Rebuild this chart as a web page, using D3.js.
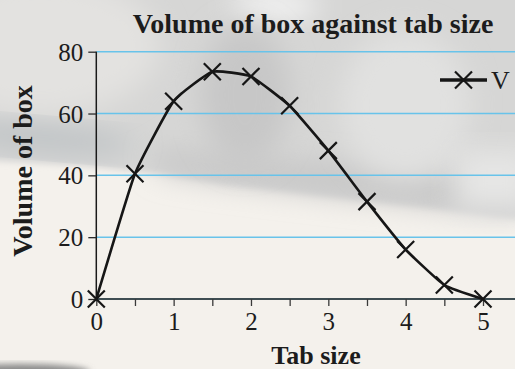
<!DOCTYPE html>
<html>
<head>
<meta charset="utf-8">
<script src="https://cdn.jsdelivr.net/npm/d3@7"></script>
<style>
  html, body { margin: 0; padding: 0; background: #f2efea; }
  svg { display: block; }
  text { font-family: "Liberation Serif", "Times New Roman", serif; fill: #1c1c1c; }
</style>
</head>
<body>
<script>
// Tab size (cm) and resulting box volume
const tabSizes = [0, 0.5, 1, 1.5, 2, 2.5, 3, 3.5, 4, 4.5, 5];
const volumes = [0, 40.5, 64, 73.5, 72, 62.5, 48, 31.5, 16, 4.5, 0];
const xTickLabels = [0, 1, 2, 3, 4, 5];
const yTickLabels = [0, 20, 40, 60, 80];
const seriesName = "V";
const chartTitle = "Volume of box against tab size";
const xTitle = "Tab size";
const yTitle = "Volume of box";

const W = 515, H = 369;
const svg = d3.select("body").append("svg").attr("width", W).attr("height", H);

// ---- soft photographic backdrop ----
const defs = svg.append("defs");
defs.append("filter").attr("id", "soft").attr("x", "-20%").attr("y", "-20%").attr("width", "140%").attr("height", "140%")
  .append("feGaussianBlur").attr("stdDeviation", 3);
defs.append("filter").attr("id", "softer").attr("x", "-30%").attr("y", "-30%").attr("width", "160%").attr("height", "160%")
  .append("feGaussianBlur").attr("stdDeviation", 14);

const bg = svg.append("g");
bg.append("rect").attr("width", W).attr("height", H).attr("fill", "#f4f1ec");
// grey upper area with a sloping lower edge
bg.append("path")
  .attr("d", "M-20,-20 L540,-20 L540,222 L430,208 L320,196 L220,184 L160,174 L80,166 L-20,160 Z")
  .attr("fill", "#d6d6d5").attr("filter", "url(#soft)");
// darker band just above the edge
bg.append("path")
  .attr("d", "M150,150 L330,165 L520,180 L520,214 L430,205 L320,193 L220,181 L160,171 Z")
  .attr("fill", "#c6c6c6").attr("filter", "url(#softer)");
bg.append("ellipse").attr("cx", 40).attr("cy", 45).attr("rx", 120).attr("ry", 70)
  .attr("fill", "#e3e2e0").attr("filter", "url(#softer)");
bg.append("ellipse").attr("cx", 275).attr("cy", 6).attr("rx", 45).attr("ry", 16)
  .attr("fill", "#f3f3f3").attr("filter", "url(#softer)");
bg.append("ellipse").attr("cx", 245).attr("cy", 95).attr("rx", 45).attr("ry", 70)
  .attr("fill", "#c7c7c7").attr("filter", "url(#softer)");
bg.append("ellipse").attr("cx", 405).attr("cy", 105).attr("rx", 65).attr("ry", 75)
  .attr("fill", "#e1e1e0").attr("filter", "url(#softer)");
bg.append("ellipse").attr("cx", 45).attr("cy", 138).attr("rx", 90).attr("ry", 14)
  .attr("transform", "rotate(5,45,138)")
  .attr("fill", "#bec2c5").attr("filter", "url(#softer)");
bg.append("rect").attr("x", 455).attr("y", 150).attr("width", 80).attr("height", 60)
  .attr("fill", "#e6e6e5").attr("filter", "url(#softer)");
bg.append("ellipse").attr("cx", 20).attr("cy", 372).attr("rx", 70).attr("ry", 8)
  .attr("fill", "#8a8a8a").attr("filter", "url(#soft)");

// ---- scales ----
const x = d3.scaleLinear().domain([0, 5]).range([96.3, 483]);
const y = d3.scaleLinear().domain([0, 80]).range([299, 51.7]);

// horizontal gridlines
svg.append("g")
  .selectAll("line")
  .data(yTickLabels.filter(d => d > 0))
  .join("line")
  .attr("x1", x(0)).attr("x2", W)
  .attr("y1", d => y(d)).attr("y2", d => y(d))
  .attr("stroke", "#68c3ea").attr("stroke-width", 1.5);

// y axis
const yAxis = svg.append("g")
  .attr("transform", `translate(${x(0)},0)`)
  .call(d3.axisLeft(y).tickValues(yTickLabels).tickSize(8).tickPadding(5).tickFormat(d3.format("d")));
yAxis.select(".domain").attr("stroke", "#1a1a1a").attr("stroke-width", 1.5)
  .attr("d", `M0,${y(80)}V${y(0)}`);
yAxis.selectAll(".tick line").attr("stroke", "#2a2a2a").attr("stroke-width", 1.3);
yAxis.selectAll(".tick text")
  .style("font-family", '"Liberation Serif", serif')
  .attr("font-size", 25).attr("fill", "#1c1c1c").attr("dy", "0.34em");

// x axis (ticks every half unit, labels on whole units)
const xAxis = svg.append("g")
  .attr("transform", `translate(0,${y(0)})`)
  .call(d3.axisBottom(x).tickValues(tabSizes).tickSize(7).tickPadding(5)
    .tickFormat(d => xTickLabels.includes(d) ? d3.format("d")(d) : ""));
xAxis.select(".domain").attr("stroke", "#3e4d52").attr("stroke-width", 2)
  .attr("d", `M${x(0)},0H${W}`);
xAxis.selectAll(".tick line").attr("stroke", "#3a3a3a").attr("stroke-width", 1.3);
xAxis.selectAll(".tick text")
  .style("font-family", '"Liberation Serif", serif')
  .attr("font-size", 25).attr("fill", "#1c1c1c").attr("dy", "0.75em");

// ---- series line (lightly smoothed) ----
const pts = tabSizes.map((t, i) => [t, volumes[i]]);
svg.append("path")
  .datum(pts)
  .attr("fill", "none")
  .attr("stroke", "#161616")
  .attr("stroke-width", 2.6)
  .attr("stroke-linejoin", "round")
  .attr("d", d3.line().x(d => x(d[0])).y(d => y(d[1])).curve(d3.curveCardinal.tension(0.6)));

// cross markers
const m = 8.5;
const cross = `M${-m},${-m}L${m},${m}M${-m},${m}L${m},${-m}`;
svg.append("g")
  .selectAll("path")
  .data(pts)
  .join("path")
  .attr("transform", d => `translate(${x(d[0])},${y(d[1])})`)
  .attr("d", cross)
  .attr("stroke", "#161616").attr("stroke-width", 2.2).attr("fill", "none");

// ---- legend ----
const lg = svg.append("g").attr("transform", "translate(440,80)");
lg.append("line").attr("x1", 0).attr("x2", 47).attr("y1", 0).attr("y2", 0)
  .attr("stroke", "#161616").attr("stroke-width", 3.5);
lg.append("path").attr("transform", "translate(23.5,0)").attr("d", cross)
  .attr("stroke", "#161616").attr("stroke-width", 2.2);
lg.append("text").attr("x", 51).attr("y", 8.5).attr("font-size", 26).text(seriesName);

// ---- titles ----
svg.append("text").attr("x", 313).attr("y", 33).attr("text-anchor", "middle")
  .attr("font-size", 28).attr("font-weight", "bold").text(chartTitle);
svg.append("text").attr("x", 316).attr("y", 364).attr("text-anchor", "middle")
  .attr("font-size", 26).attr("font-weight", "bold").text(xTitle);
svg.append("text").attr("transform", "translate(32,171) rotate(-90)").attr("text-anchor", "middle")
  .attr("font-size", 28).attr("font-weight", "bold").text(yTitle);
</script>
</body>
</html>
